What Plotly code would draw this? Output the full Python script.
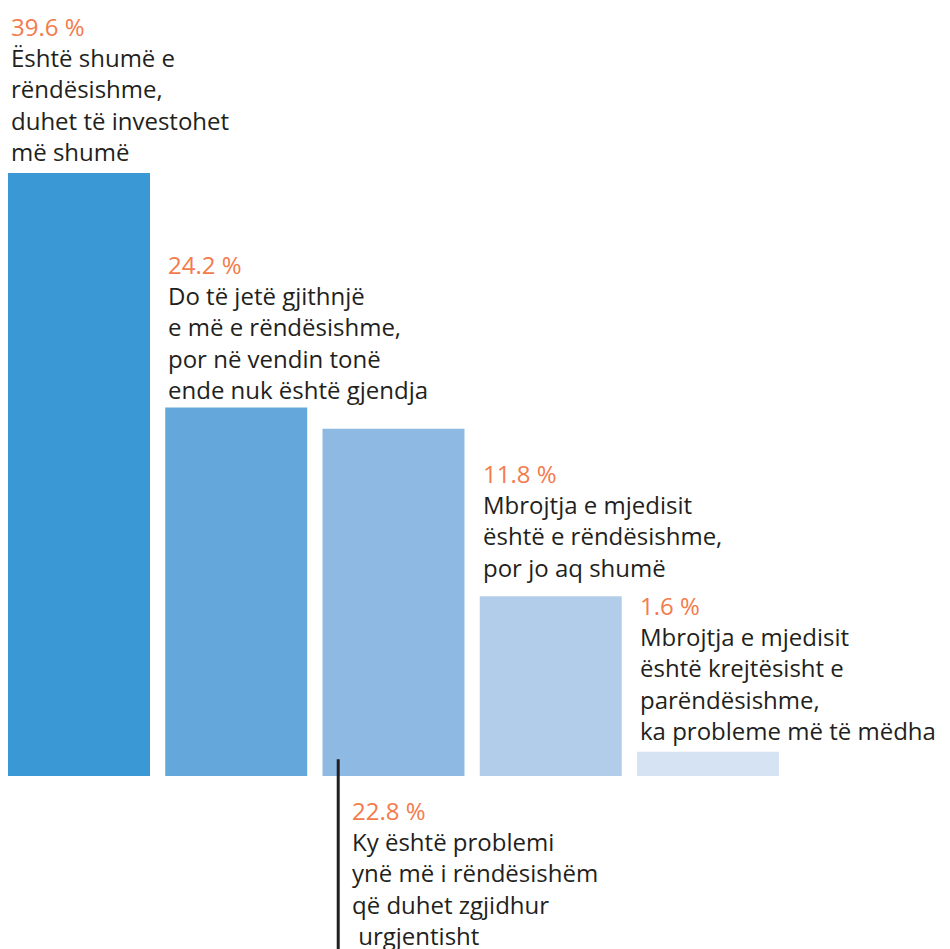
import plotly.graph_objects as go

values = [39.6, 24.2, 22.8, 11.8, 1.6]
pct_labels = ["39.6 %", "24.2 %", "22.8 %", "11.8 %", "1.6 %"]
descriptions = [
    "Është shumë e<br>rëndësishme,<br>duhet të investohet<br>më shumë",
    "Do të jetë gjithnjë<br>e më e rëndësishme,<br>por në vendin tonë<br>ende nuk është gjendja",
    "Ky është problemi<br>ynë më i rëndësishëm<br>që duhet zgjidhur<br>\u00a0urgjentisht",
    "Mbrojtja e mjedisit<br>është e rëndësishme,<br>por jo aq shumë",
    "Mbrojtja e mjedisit<br>është krejtësisht e<br>parëndësishme,<br>ka probleme më të mëdha",
]
colors = ["#3a98d4", "#64a7da", "#8db9e3", "#b2cdea", "#d5e3f3"]

ORANGE = "#f37b4c"
DARK = "#231f20"
FONT = "Open Sans"
FS = 24
BW = 0.903
LABEL_GAPS = [3, -1, 0, 10, 3]  # pixel gap between label block and bar top

x = list(range(len(values)))
fig = go.Figure(go.Bar(x=x, y=values, marker=dict(color=colors, line=dict(width=0)),
                       width=BW, hoverinfo="skip"))

for i, (v, p, d) in enumerate(zip(values, pct_labels, descriptions)):
    txt = f'<span style="color:{ORANGE}">{p}</span><br>{d}'
    if i == 2:
        fig.add_annotation(x=i - BW / 2, y=0, xref="x", yref="y", text=txt,
                           showarrow=False, xanchor="left", yanchor="top",
                           xshift=27, yshift=-16, align="left",
                           font=dict(family=FONT, size=FS, color=DARK))
        fig.add_shape(type="line", xref="x", yref="y",
                      x0=i - BW / 2 + 0.1, x1=i - BW / 2 + 0.1,
                      y0=-12, y1=1.1, line=dict(color=DARK, width=3))
    else:
        fig.add_annotation(x=i - BW / 2, y=v, xref="x", yref="y", text=txt,
                           showarrow=False, xanchor="left", yanchor="bottom",
                           xshift=1, yshift=LABEL_GAPS[i], align="left",
                           font=dict(family=FONT, size=FS, color=DARK))

fig.update_layout(
    width=942, height=941,
    margin=dict(l=0, r=0, t=0, b=0),
    paper_bgcolor="white", plot_bgcolor="white",
    showlegend=False,
    xaxis=dict(range=[-0.4515, 5.539], visible=False, fixedrange=True),
    yaxis=dict(range=[-11.36, 50.43], visible=False, fixedrange=True),
)
fig.write_html("out.html")
